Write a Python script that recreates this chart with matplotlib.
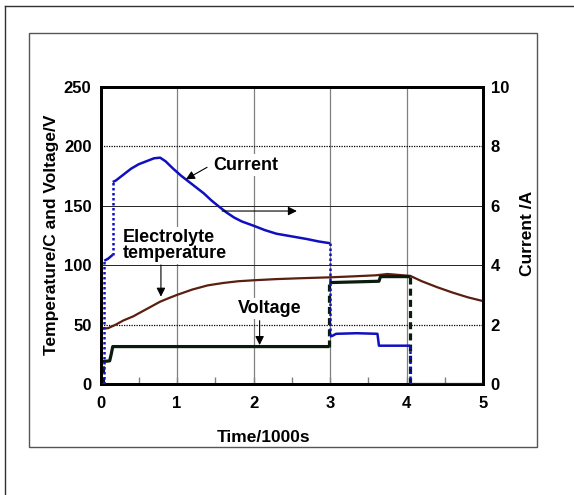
import matplotlib

matplotlib.use("Agg")
import matplotlib.pyplot as plt
import numpy as np
from matplotlib.lines import Line2D
from matplotlib.patches import Rectangle

plt.rcParams["font.family"] = ["Liberation Sans", "DejaVu Sans"]
plt.rcParams["font.weight"] = "bold"

# ---- data ----
time_ticks = [0, 1, 2, 3, 4, 5]
time_minor = [0.5, 1.5, 2.5, 3.5, 4.5]
left_ticks = [0, 50, 100, 150, 200, 250]
right_ticks = [0, 2, 4, 6, 8, 10]

# current (A, right axis); repeated times are the vertical jumps
current_t = [0.0, 0.05, 0.05, 0.10, 0.16, 0.16, 0.20, 0.30, 0.40, 0.50, 0.60, 0.70,
             0.78, 0.85, 0.95, 1.05, 1.15, 1.25, 1.35, 1.45, 1.55, 1.65, 1.75, 1.85,
             2.00, 2.15, 2.30, 2.50, 2.70, 2.85, 3.00, 3.00, 3.03, 3.08, 3.35, 3.62,
             3.64, 4.04, 4.04, 5.00]
current_a = [0.0, 0.0, 4.15, 4.22, 4.35, 6.8, 6.85, 7.05, 7.25, 7.4, 7.5, 7.6,
             7.62, 7.5, 7.25, 7.02, 6.82, 6.62, 6.42, 6.18, 5.97, 5.77, 5.6, 5.47,
             5.33, 5.18, 5.06, 4.97, 4.88, 4.8, 4.74, 1.6, 1.62, 1.69, 1.71, 1.69,
             1.29, 1.29, 0.0, 0.0]

# voltage (V, left axis)
voltage_t = [0.0, 0.03, 0.03, 0.12, 0.14, 0.16, 2.99, 2.99, 3.02, 3.64, 3.66, 4.05, 4.05, 5.0]
voltage_v = [0.0, 0.0, 18.8, 19.5, 25.0, 31.5, 31.5, 85.4, 85.4, 86.5, 90.4, 90.4, 0.0, 0.0]

# electrolyte temperature (C, left axis)
temp_t = [0.0, 0.1, 0.2, 0.3, 0.43, 0.5, 0.7, 0.78, 0.9, 1.0, 1.2, 1.4, 1.6, 1.8, 2.0,
          2.3, 2.6, 3.0, 3.3, 3.6, 3.75, 3.9, 4.05, 4.2, 4.4, 4.6, 4.8, 5.0]
temp_c = [46.5, 47.0, 50.0, 53.5, 57.0, 59.5, 66.5, 69.3, 72.5, 75.0, 79.5, 83.0, 85.0,
          86.5, 87.3, 88.3, 89.0, 89.8, 90.6, 91.5, 92.6, 91.8, 91.0, 86.5, 81.5, 77.0,
          73.0, 69.8]

CURRENT_COLOR = "#1010c0"
VOLTAGE_COLOR = "#0a1c0e"
TEMP_COLOR = "#5a1f10"


def plot_with_jumps(ax, t, y, color, lw, jump_dash, zorder=3):
    """Solid line for the curve, dashed style for the vertical jumps."""
    t = np.asarray(t, dtype=float)
    y = np.asarray(y, dtype=float)
    run_t, run_y = [t[0]], [y[0]]
    run_jump = t[1] == t[0]
    for i in range(len(t) - 1):
        jump = t[i + 1] == t[i]
        if jump != run_jump:
            ls = (0, jump_dash) if run_jump else "-"
            ax.plot(run_t, run_y, color=color, lw=lw, ls=ls, zorder=zorder,
                    solid_capstyle="butt", dash_capstyle="butt")
            run_t, run_y = [t[i]], [y[i]]
            run_jump = jump
        run_t.append(t[i + 1])
        run_y.append(y[i + 1])
    ls = (0, jump_dash) if run_jump else "-"
    ax.plot(run_t, run_y, color=color, lw=lw, ls=ls, zorder=zorder,
            solid_capstyle="butt", dash_capstyle="butt")


W, H = 574, 495
fig = plt.figure(figsize=(W / 100, H / 100), dpi=100)

# frames around the chart
fig.add_artist(Line2D([4.5 / W, 4.5 / W], [0, 1 - 5.5 / H], color="#303030", lw=1.0))
fig.add_artist(Line2D([4.5 / W, 1], [1 - 5.5 / H, 1 - 5.5 / H], color="#303030", lw=1.0))
fig.add_artist(Rectangle((28.5 / W, 1 - 446.5 / H), 508 / W, 414 / H,
                         fill=False, edgecolor="#555555", lw=1.0))

ax = fig.add_axes([100.5 / W, 1 - 384 / H, 382.5 / W, 297 / H])
ax2 = ax.twinx()

ax.set_xlim(0, 5)
ax.set_ylim(0, 250)
ax2.set_ylim(0, 10)

ax.set_xticks(time_ticks)
ax.set_xticks(time_minor, minor=True)
ax.set_yticks(left_ticks)
ax2.set_yticks(right_ticks)

ax.tick_params(axis="x", which="both", direction="in", length=5, width=1,
               color="#808080", labelsize=12, pad=9)
ax.tick_params(axis="y", length=0, labelsize=12, pad=6.5)
ax2.tick_params(axis="y", length=0, labelsize=12, pad=5.5)

ax.grid(axis="x", which="major", color="#808080", lw=0.9)
ax.grid(axis="y", which="major", color="#222222", lw=0.7)
for i, gl in enumerate(ax.get_ygridlines()):
    if left_ticks[i] in (50, 200):
        gl.set_linestyle((0, (1, 1)))
        gl.set_color("black")
        gl.set_linewidth(0.9)

for a in (ax, ax2):
    for sp in a.spines.values():
        sp.set_linewidth(2.0)
        sp.set_color("black")

plot_with_jumps(ax, temp_t, temp_c, TEMP_COLOR, 1.6, (1, 1))
plot_with_jumps(ax, voltage_t, voltage_v, VOLTAGE_COLOR, 2.3, (2.2, 1.3))
plot_with_jumps(ax2, current_t, current_a, CURRENT_COLOR, 1.8, (1, 1))

# labels inside the plot (drawn on ax2 so they sit above everything)
box = dict(facecolor="white", edgecolor="none", pad=1.5)
arrow = dict(arrowstyle="-|>", color="black", lw=0.8, mutation_scale=13,
             shrinkA=0, shrinkB=0)

ax2.text(1.475, 184.3, "Current", transform=ax.transData, ha="left", va="center",
         fontsize=13, bbox=box, zorder=5)
ax2.annotate("", xy=(1.116, 172.3), xytext=(1.393, 182.4), xycoords=ax.transData,
             textcoords=ax.transData, arrowprops=arrow, zorder=6)
ax2.annotate("", xy=(2.567, 145.6), xytext=(1.589, 145.6), xycoords=ax.transData,
             textcoords=ax.transData, arrowprops=arrow, zorder=6)

ax2.text(0.29, 116.6, "Electrolyte\ntemperature", transform=ax.transData, ha="left",
         va="center", fontsize=13, linespacing=0.92, bbox=box, zorder=5)
ax2.annotate("", xy=(0.79, 73.5), xytext=(0.79, 100.2), xycoords=ax.transData,
             textcoords=ax.transData, arrowprops=arrow, zorder=6)

ax2.text(2.21, 63.7, "Voltage", transform=ax.transData, ha="center", va="center",
         fontsize=13, bbox=box, zorder=5)
ax2.annotate("", xy=(2.08, 32.8), xytext=(2.08, 53.3), xycoords=ax.transData,
             textcoords=ax.transData, arrowprops=arrow, zorder=6)

# axis titles
fig.text(52 / W, 1 - 235 / H, "Temperature/C and Voltage/V", rotation=90,
         ha="center", va="center", fontsize=12.5)
fig.text(527.5 / W, 1 - 233 / H, "Current /A", rotation=90,
         ha="center", va="center", fontsize=12.5)
fig.text(264 / W, 1 - 438 / H, "Time/1000s", ha="center", va="center", fontsize=12.5)

fig.savefig("out.png", dpi=100)
